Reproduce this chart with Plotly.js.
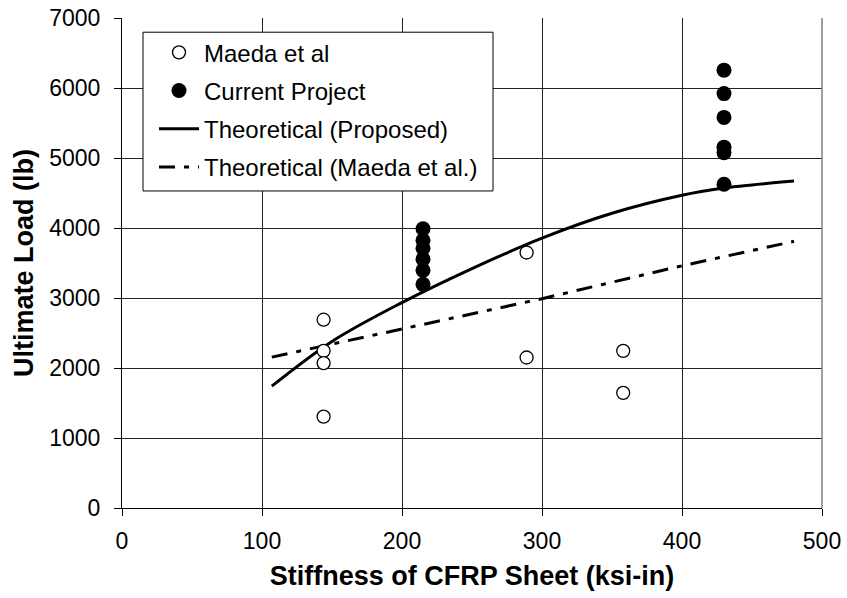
<!DOCTYPE html>
<html>
<head>
<meta charset="utf-8">
<script src="https://cdn.plot.ly/plotly-3.0.1.min.js"></script>
<style>html,body{margin:0;padding:0;background:#fff;}#chart{width:847px;height:598px;}</style>
</head>
<body>
<div id="chart"></div>
<script>
// Maeda et al (open circles)
const maedaX = [144, 144, 144, 144, 289, 289, 358, 358];
const maedaY = [2690, 2245, 2070, 1305, 3650, 2150, 2245, 1645];
// Current Project (filled circles)
const currentX = [215, 215, 215, 215, 215, 215, 430, 430, 430, 430, 430, 430];
const currentY = [3990, 3825, 3710, 3555, 3395, 3195, 6255, 5920, 5580, 5155, 5075, 4625];
// Theoretical (Proposed)
const propX = [107, 150, 200, 250, 300, 350, 400, 430, 450, 480];
const propY = [1740, 2380, 2935, 3420, 3855, 4210, 4467, 4570, 4615, 4670];
// Theoretical (Maeda et al.)
const maedaThX = [107, 200, 300, 400, 480];
const maedaThY = [2155, 2555, 2990, 3460, 3810];

const xTicks = [0, 100, 200, 300, 400, 500];
const yTicks = [0, 1000, 2000, 3000, 4000, 5000, 6000, 7000];

const F = 'Arial, "Liberation Sans", sans-serif';

const traces = [
  {x: propX, y: propY, mode: 'lines', name: 'Theoretical (Proposed)', legendgroup: 'c', legendrank: 3,
   line: {color: '#000', width: 3, shape: 'spline'}},
  {x: maedaThX, y: maedaThY, mode: 'lines', name: 'Theoretical (Maeda et al.)', legendgroup: 'd', legendrank: 4,
   line: {color: '#000', width: 3, dash: '16px,9px,5px,9px'}},
  {x: maedaX, y: maedaY, mode: 'markers', name: 'Maeda et al', legendgroup: 'a', legendrank: 1,
   marker: {symbol: 'circle', size: 13, color: '#fff', line: {color: '#000', width: 1.3}}},
  {x: currentX, y: currentY, mode: 'markers', name: 'Current Project', legendgroup: 'b', legendrank: 2,
   marker: {symbol: 'circle', size: 15, color: '#000', line: {color: '#000', width: 0}}}
];

const layout = {
  width: 847, height: 598,
  margin: {l: 122, r: 25, t: 18, b: 90},
  paper_bgcolor: '#fff', plot_bgcolor: '#fff',
  font: {family: F, color: '#000', size: 23},
  showlegend: true,
  legend: {x: 0.0457, y: 0.975, xanchor: 'left', yanchor: 'top', bgcolor: 'rgba(0,0,0,0)',
           borderwidth: 0, font: {family: F, size: 24, color: '#000'},
           traceorder: 'grouped', tracegroupgap: 4, itemwidth: 40},
  xaxis: {range: [0, 500], tickvals: xTicks, ticktext: xTicks.map(String),
          showgrid: true, gridcolor: '#222', gridwidth: 1, zeroline: false,
          showline: true, linecolor: '#000', linewidth: 1,
          ticks: 'outside', ticklen: 7, tickcolor: '#000', ticklabelstandoff: 5,
          tickfont: {family: F, size: 23, color: '#000'},
          title: {text: '<b>Stiffness of CFRP Sheet (ksi-in)</b>', font: {family: F, size: 27, color: '#000'}, standoff: 13}},
  yaxis: {range: [0, 7000], tickvals: yTicks, ticktext: yTicks.map(String),
          showgrid: true, gridcolor: '#222', gridwidth: 1, zeroline: false,
          showline: true, linecolor: '#000', linewidth: 1,
          ticks: 'outside', ticklen: 7, tickcolor: '#000', ticklabelstandoff: 9,
          tickfont: {family: F, size: 23, color: '#000'},
          title: {text: '<b>Ultimate Load (lb)</b>', font: {family: F, size: 27, color: '#000'}, standoff: 7}},
  shapes: [
    {type: 'line', xref: 'paper', yref: 'paper', x0: 1, x1: 1, y0: 0, y1: 1, line: {color: '#808080', width: 1.5}},
    {type: 'rect', xref: 'paper', yref: 'paper', x0: 0.03, x1: 0.53, y0: 0.647, y1: 0.971,
     fillcolor: '#fff', line: {color: '#000', width: 1}, layer: 'above'}
  ]
};

Plotly.newPlot('chart', traces, layout, {displayModeBar: false, staticPlot: true});
</script>
</body>
</html>
